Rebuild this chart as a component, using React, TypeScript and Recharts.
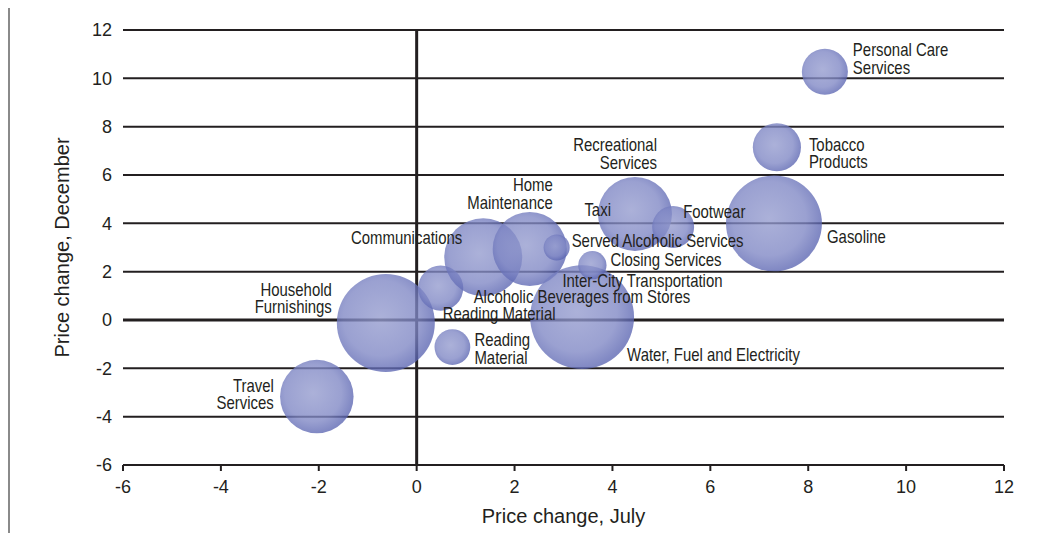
import React from 'react'
import {
  ScatterChart,
  Scatter,
  XAxis,
  YAxis,
  ZAxis,
  CartesianGrid,
  ReferenceLine,
  Label,
} from 'recharts'

// CPI components: price change in July vs December, bubble = weight
const categories = [
  'Travel Services',
  'Household Furnishings',
  'Reading Material',
  'Alcoholic Beverages from Stores',
  'Communications',
  'Home Maintenance',
  'Served Alcoholic Services',
  'Water, Fuel and Electricity',
  'Closing Services',
  'Recreational Services',
  'Footwear',
  'Gasoline',
  'Tobacco Products',
  'Personal Care Services',
]
const julyChange = [-2.04, -0.63, 0.73, 0.49, 1.36, 2.31, 2.86, 3.38, 3.59, 4.46, 5.24, 7.3, 7.36, 8.34]
const decemberChange = [-3.17, -0.12, -1.12, 1.32, 2.6, 2.94, 3.0, 0.12, 2.27, 4.39, 3.85, 4.0, 7.15, 10.27]
const weights = [13.5, 24, 3.2, 5.1, 15.2, 13.7, 1.7, 27, 2.0, 13.7, 4.4, 23, 5.8, 5.3]

const xTicks = [-6, -4, -2, 0, 2, 4, 6, 8, 10, 12]
const yTicks = [-6, -4, -2, 0, 2, 4, 6, 8, 10, 12]

// label text, which bubble it sits next to
const labelText: string[][] = [
  ['Travel', 'Services'],
  ['Household', 'Furnishings'],
  ['Reading', 'Material'],
  ['Alcoholic Beverages from Stores'],
  ['Communications'],
  ['Home', 'Maintenance'],
  ['Served Alcoholic Services'],
  ['Water, Fuel and Electricity'],
  ['Closing Services'],
  ['Recreational', 'Services'],
  ['Footwear'],
  ['Gasoline'],
  ['Tobacco', 'Products'],
  ['Personal Care', 'Services'],
  ['Taxi'],
  ['Inter-City Transportation'],
  ['Reading Material'],
]
const labelOwner = [0, 1, 2, 3, 4, 5, 6, 7, 8, 9, 10, 11, 12, 13, 9, 8, 3]

// placement of each label relative to its bubble centre (px)
const labelPlacement: { dx: number; dy: number; anchor: 'start' | 'end' }[] = [
  { dx: -43, dy: -11, anchor: 'end' },
  { dx: -54, dy: -33.5, anchor: 'end' },
  { dx: 22, dy: -7, anchor: 'start' },
  { dx: 33, dy: 9, anchor: 'start' },
  { dx: -21, dy: -19, anchor: 'end' },
  { dx: 23, dy: -64, anchor: 'end' },
  { dx: 15, dy: -7, anchor: 'start' },
  { dx: 45, dy: 38, anchor: 'start' },
  { dx: 18, dy: -5, anchor: 'start' },
  { dx: 22, dy: -69, anchor: 'end' },
  { dx: 10, dy: -15, anchor: 'start' },
  { dx: 53, dy: 13, anchor: 'start' },
  { dx: 32, dy: -3, anchor: 'start' },
  { dx: 28, dy: -22, anchor: 'start' },
  { dx: -24, dy: -4, anchor: 'end' },
  { dx: -30, dy: 15.5, anchor: 'start' },
  { dx: 2, dy: 25.5, anchor: 'start' },
]

const bubbles = categories.map((name, i) => ({
  name,
  x: julyChange[i],
  y: decemberChange[i],
  z: weights[i],
}))

const labels = labelText.map((lines, i) => ({
  lines,
  x: julyChange[labelOwner[i]],
  y: decemberChange[labelOwner[i]],
  z: weights[labelOwner[i]],
  place: labelPlacement[i],
}))

const INK = '#231f20'
const TICK_FONT = "'Liberation Sans', Arial, Helvetica, sans-serif"
const LABEL_FONT = "'Liberation Sans Narrow', 'Arial Narrow', 'Liberation Sans', sans-serif"

function Bubble(props: any) {
  const { cx, cy, width } = props
  if (cx == null || cy == null) return null
  return <circle cx={cx} cy={cy} r={width / 2} fill="url(#bubbleFill)" fillOpacity={0.78} />
}

// labels in the original use a narrow grotesque; squeeze horizontally
function BubbleLabel(props: any) {
  const { cx, cy, payload } = props
  if (cx == null || cy == null || !payload) return null
  const { lines, place } = payload
  return (
    <g transform={`translate(${cx + place.dx},${cy + place.dy}) scale(0.83,1)`}>
      <text x={0} y={0} textAnchor={place.anchor} fill={INK} fontSize={18} fontFamily={LABEL_FONT}>
        {lines.map((line: string, k: number) => (
          <tspan key={k} x={0} dy={k === 0 ? '0.35em' : 17.5}>
            {line}
          </tspan>
        ))}
      </text>
    </g>
  )
}

export default function App() {
  return (
    <div style={{ position: 'relative', width: 1052, height: 533, margin: '-8px 0 0 -8px', overflow: 'hidden', background: '#fff' }}>
      <div
        style={{
          position: 'absolute',
          left: 8,
          top: 4,
          width: 1100,
          height: 600,
          borderTop: '2px solid #8a8a8a',
          borderLeft: '2px solid #8a8a8a',
        }}
      />
      <div style={{ position: 'absolute', left: 0, top: 0 }}>
        <ScatterChart width={1052} height={533} margin={{ top: 30, right: 48, bottom: 0, left: 0 }}>
          <defs>
            <radialGradient id="bubbleFill" cx="45%" cy="45%" r="55%">
              <stop offset="0%" stopColor="rgb(148,155,206)" />
              <stop offset="70%" stopColor="rgb(126,134,196)" />
              <stop offset="100%" stopColor="rgb(92,102,178)" />
            </radialGradient>
          </defs>
          <CartesianGrid vertical={false} stroke={INK} strokeWidth={2} />
          <ReferenceLine x={0} stroke={INK} strokeWidth={3} />
          <ReferenceLine y={0} stroke={INK} strokeWidth={3} />
          <XAxis
            type="number"
            dataKey="x"
            domain={[-6, 12]}
            ticks={xTicks}
            allowDataOverflow
            height={68}
            axisLine={{ stroke: INK, strokeWidth: 2 }}
            tickLine={{ stroke: INK, strokeWidth: 2 }}
            tickSize={6}
            tickMargin={9}
            tick={{ fill: INK, fontSize: 18, fontFamily: TICK_FONT }}
          >
            <Label value="Price change, July" position="center" dy={17} fill={INK} fontSize={20} fontFamily={TICK_FONT} />
          </XAxis>
          <YAxis
            type="number"
            dataKey="y"
            domain={[-6, 12]}
            ticks={yTicks}
            allowDataOverflow
            width={123}
            axisLine={false}
            tickLine={false}
            tickSize={6}
            tickMargin={5}
            tick={{ fill: INK, fontSize: 18, fontFamily: TICK_FONT }}
          >
            <Label value="Price change, December" position="center" angle={-90} fill={INK} fontSize={20} fontFamily={TICK_FONT} />
          </YAxis>
          <ZAxis type="number" dataKey="z" domain={[0, 30]} range={[0, Math.PI * 3000]} />
          <Scatter data={bubbles} shape={<Bubble />} isAnimationActive={false} />
          <Scatter data={labels} shape={<BubbleLabel />} isAnimationActive={false} />
        </ScatterChart>
      </div>
    </div>
  )
}
